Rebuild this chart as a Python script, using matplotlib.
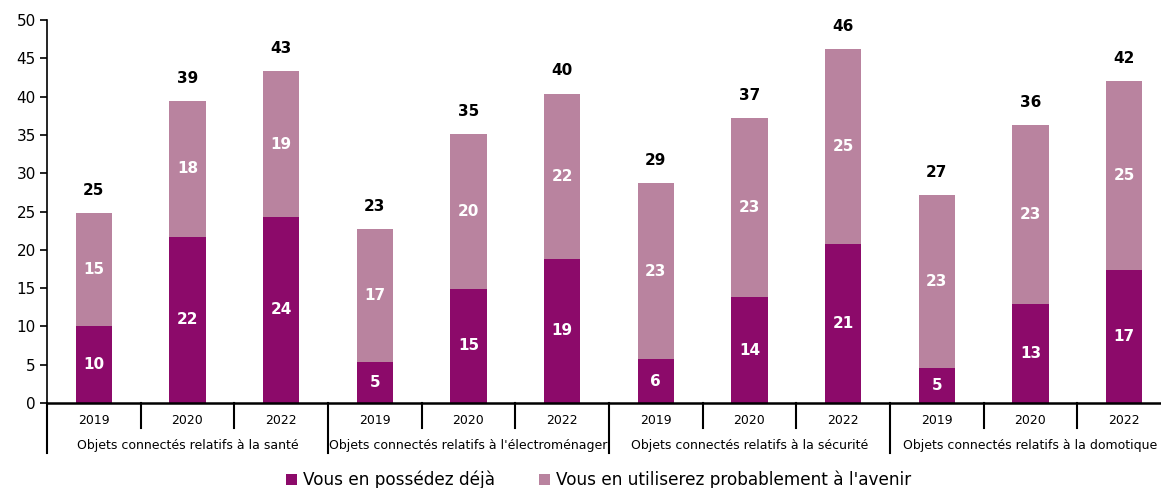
import matplotlib
matplotlib.use("Agg")
import matplotlib.pyplot as plt
import matplotlib.transforms as mtransforms
from matplotlib.patches import Patch

groups = ["Objets connectés relatifs à la santé",
          "Objets connectés relatifs à l'électroménager",
          "Objets connectés relatifs à la sécurité",
          "Objets connectés relatifs à la domotique"]
years = ["2019", "2020", "2022"]
possede = [10.0, 21.7, 24.3, 5.3, 14.9, 18.8, 5.7, 13.8, 20.8, 4.6, 12.9, 17.4]
avenir = [14.8, 17.7, 19.0, 17.4, 20.2, 21.6, 23.0, 23.4, 25.4, 22.6, 23.4, 24.6]
series_names = ["Vous en possédez déjà", "Vous en utiliserez probablement à l'avenir"]

dark = "#8C0A6A"
light = "#B9839F"

plt.rcParams['font.family'] = ['DejaVu Sans']

W, H = 1161, 488
fig = plt.figure(figsize=(W / 100, H / 100), dpi=100)
ax_left, ax_right = 47, 1171
ax_bottom, ax_top = 403, 20
ax = fig.add_axes([ax_left / W, 1 - ax_bottom / H, (ax_right - ax_left) / W, (ax_bottom - ax_top) / H])

n = len(possede)
xs = list(range(n))
bw = 0.39
ax.bar(xs, possede, width=bw, color=dark, zorder=2)
ax.bar(xs, avenir, width=bw, bottom=possede, color=light, zorder=2)

for i in xs:
    p, a = possede[i], avenir[i]
    ax.text(i, p / 2, f"{round(p)}", ha='center', va='center', color='white',
            fontsize=11, fontweight='bold', zorder=3)
    ax.text(i, p + a / 2, f"{round(a)}", ha='center', va='center', color='white',
            fontsize=11, fontweight='bold', zorder=3)
    ax.annotate(f"{round(p + a)}", (i, p + a), xytext=(0, 13), textcoords='offset points',
                ha='center', va='baseline', fontsize=11, fontweight='bold', color='black')

ax.set_xlim(-0.5, n - 0.5)
ax.set_ylim(0, 50)
ax.set_yticks(range(0, 51, 5))
ax.tick_params(axis='y', labelsize=11, length=5, width=1.2, direction='out', pad=3)
ax.set_xticks([])
for s in ['top', 'right']:
    ax.spines[s].set_visible(False)
ax.spines['left'].set_linewidth(1.2)
ax.spines['bottom'].set_linewidth(1.8)

trans = mtransforms.blended_transform_factory(ax.transData, ax.transAxes)
axh = ax_bottom - ax_top
short = 25 / axh
long_ = 50 / axh
for g in range(len(groups)):
    base = g * 3
    ax.plot([base - 0.5, base - 0.5], [0, -long_], transform=trans, color='black',
            lw=1.5, clip_on=False)
    for k in range(1, 3):
        ax.plot([base + k - 0.5] * 2, [0, -short], transform=trans, color='black',
                lw=1.5, clip_on=False)
    for k, y in enumerate(years):
        ax.text(base + k, -17 / axh, y, transform=trans, ha='center', va='center', fontsize=9)
    ax.text(base + 1, -42 / axh, groups[g], transform=trans, ha='center', va='center', fontsize=9)
ax.plot([n - 0.5] * 2, [0, -long_], transform=trans, color='black', lw=1.5, clip_on=False)

handles = [Patch(facecolor=dark, edgecolor='none'), Patch(facecolor=light, edgecolor='none')]
fig.legend(handles, series_names, loc='center', bbox_to_anchor=(599 / W, 1 - 480 / H),
           ncol=2, frameon=False, fontsize=12.2, handlelength=0.6, handleheight=0.6,
           handletextpad=0.4, columnspacing=2.6)

fig.savefig("out.png", dpi=100)
